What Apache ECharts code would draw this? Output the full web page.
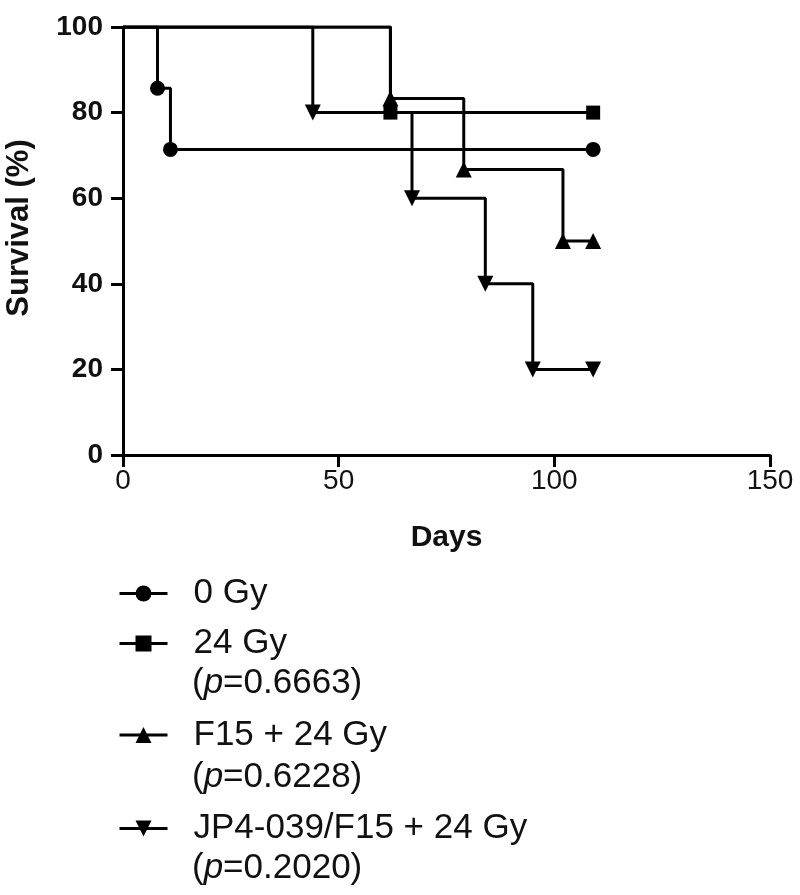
<!DOCTYPE html>
<html>
<head>
<meta charset="utf-8">
<script src="https://cdn.jsdelivr.net/npm/echarts@6/dist/echarts.min.js"></script>
<style>
html,body{margin:0;padding:0;background:#fff;}
#chart{width:800px;height:895px;}
</style>
</head>
<body>
<div id="chart"></div>
<script>
// ---- Data (Kaplan-Meier steps: day, survival %) ----
const seriesNames = ['0 Gy', '24 Gy', 'F15 + 24 Gy', 'JP4-039/F15 + 24 Gy'];
const pValues = [null, '0.6663', '0.6228', '0.2020'];

const days0 = [0, 8, 11, 109];
const surv0 = [100, 85.7, 71.4, 71.4];

const days24 = [0, 62, 109];
const surv24 = [100, 80, 80];

const daysF15 = [0, 62, 79, 102, 109];
const survF15 = [100, 83.3, 66.7, 50, 50];

const daysJP4 = [0, 44, 67, 84, 95, 109];
const survJP4 = [100, 80, 60, 40, 20, 20];

const xTicks = [0, 50, 100, 150];
const yTicks = [0, 20, 40, 60, 80, 100];

// ---- Build ----
const FONT = '"Liberation Sans", Arial, Helvetica, sans-serif';
const BLACK = '#000';

function makeData(days, surv) {
  return days.map((d, i) => i === 0 ? {value: [d, surv[i]], symbol: 'none'} : [d, surv[i]]);
}

const symbols = [
  {symbol: 'circle', size: 15, rotate: 0},
  {symbol: 'rect', size: 14, rotate: 0},
  {symbol: 'triangle', size: 16, rotate: 0},
  {symbol: 'triangle', size: 16, rotate: 180}
];
const allDays = [days0, days24, daysF15, daysJP4];
const allSurv = [surv0, surv24, survF15, survJP4];

const series = seriesNames.map((name, k) => ({
  name: name,
  type: 'line',
  step: 'end',
  data: makeData(allDays[k], allSurv[k]),
  symbol: symbols[k].symbol,
  symbolSize: symbols[k].size,
  symbolRotate: symbols[k].rotate,
  showAllSymbol: true,
  lineStyle: {color: BLACK, width: 3},
  itemStyle: {color: BLACK, borderWidth: 0},
  emphasis: {disabled: true},
  animation: false,
  z: 3 + k
}));

const legendCenters = [593.5, 643.5, 735, 828.5];
const legends = seriesNames.map((name, k) => ({
  data: [name],
  left: 118,
  top: legendCenters[k] - 21,
  padding: 0,
  orient: 'vertical',
  itemWidth: 48,
  itemHeight: 20,
  selectedMode: false,
  lineStyle: {width: 3, color: BLACK},
  itemStyle: {color: BLACK},
  textStyle: {
    fontFamily: FONT, fontSize: 35, color: '#111', lineHeight: 42,
    padding: [0, 0, 0, 21]
  }
}));

const pLineCenters = [null, 687, 780.5, 872];
const graphics = [];
pValues.forEach((p, k) => {
  if (p === null) return;
  graphics.push({
    type: 'text',
    left: 192,
    top: pLineCenters[k] - 21,
    style: {
      text: '{a|(}{i|p}{a|=' + p + ')}',
      rich: {
        a: {fontFamily: FONT, fontSize: 35, fill: '#111', lineHeight: 42},
        i: {fontFamily: FONT, fontSize: 35, fontStyle: 'italic', fill: '#111', lineHeight: 42}
      }
    }
  });
});

const chart = echarts.init(document.getElementById('chart'), null, {renderer: 'canvas'});
chart.setOption({
  backgroundColor: '#fff',
  animation: false,
  grid: {left: 123, right: 30, top: 27, bottom: 440, containLabel: false, outerBoundsMode: 'none'},
  xAxis: {
    type: 'value',
    min: xTicks[0], max: xTicks[xTicks.length - 1], interval: 50,
    name: 'Days',
    nameLocation: 'middle',
    nameGap: 68,
    nameTextStyle: {fontFamily: FONT, fontSize: 30, fontWeight: 'bold', color: '#111'},
    axisLine: {show: true, lineStyle: {color: BLACK, width: 3}},
    axisTick: {show: true, length: 12, lineStyle: {color: BLACK, width: 3}},
    axisLabel: {fontFamily: FONT, fontSize: 28, color: '#111', margin: 12},
    splitLine: {show: false}
  },
  yAxis: {
    type: 'value',
    min: yTicks[0], max: yTicks[yTicks.length - 1], interval: 20,
    name: 'Survival (%)',
    nameLocation: 'middle',
    nameGap: 88,
    nameRotate: 90,
    nameTextStyle: {fontFamily: FONT, fontSize: 31, fontWeight: 'bold', color: '#111', padding: [0, 0, 0, 26]},
    axisLine: {show: true, lineStyle: {color: BLACK, width: 3}},
    axisTick: {show: true, length: 12, lineStyle: {color: BLACK, width: 3}},
    axisLabel: {fontFamily: FONT, fontSize: 28, fontWeight: 'bold', color: '#111', margin: 20},
    splitLine: {show: false}
  },
  legend: legends,
  graphic: graphics,
  series: series
});
</script>
</body>
</html>
